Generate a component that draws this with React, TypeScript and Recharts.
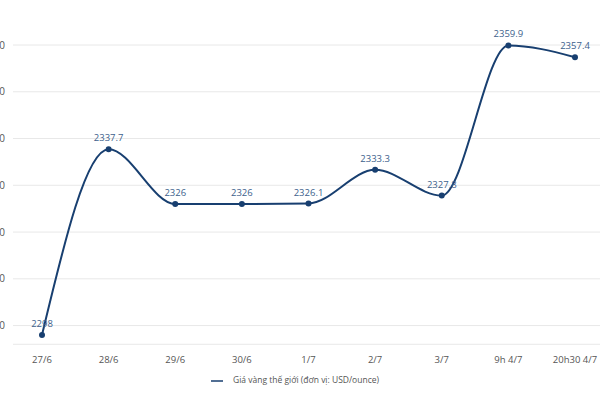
import { CartesianGrid, LabelList, Legend, Line, LineChart, XAxis, YAxis } from "recharts"

const categories = ["27/6", "28/6", "29/6", "30/6", "1/7", "2/7", "3/7", "9h 4/7", "20h30 4/7"]
const goldPrices = [2298, 2337.7, 2326, 2326, 2326.1, 2333.3, 2327.8, 2359.9, 2357.4]
const yTicks = [2300, 2310, 2320, 2330, 2340, 2350, 2360]

const LINE_COLOR = "#183f70"
const FONT = "'Open Sans', sans-serif"

const data = categories.map((name, i) => ({ name, price: goldPrices[i] }))

export default function App() {
  return (
    <div style={{ position: "absolute", left: 0, top: 0, width: 600, height: 400, background: "#fff" }}>
      <LineChart
        width={600}
        height={400}
        data={data}
        margin={{ top: 45, right: 0, bottom: 13, left: -27 }}
        style={{ fontFamily: FONT }}
      >
        <CartesianGrid stroke="#e8e8e8" vertical={false} />
        <XAxis
          dataKey="name"
          axisLine={false}
          tickLine={false}
          interval={0}
          padding={{ left: 29, right: 25 }}
          tick={{ fill: "#555", fontSize: 9.5 }}
          tickMargin={6}
        />
        <YAxis
          width={40}
          domain={[2296, 2360]}
          ticks={yTicks}
          axisLine={false}
          tickLine={false}
          tick={{ fill: "#555", fontSize: 10 }}
        />
        <Legend
          verticalAlign="bottom"
          iconType="plainline"
          iconSize={12}
          wrapperStyle={{ top: 374, left: 0, width: 600, fontSize: 8.5, color: "#555" }}
          formatter={(value) => <span style={{ color: "#555", marginLeft: 6 }}>{value}</span>}
        />
        <Line
          type="monotone"
          dataKey="price"
          name="Giá vàng thế giới (đơn vị: USD/ounce)"
          stroke={LINE_COLOR}
          strokeWidth={2}
          dot={{ r: 3, fill: LINE_COLOR, stroke: LINE_COLOR, strokeWidth: 0 }}
          isAnimationActive={false}
        >
          <LabelList dataKey="price" position="top" offset={8} fill="#3d5f8c" fontSize={9.5} />
        </Line>
      </LineChart>
    </div>
  )
}
